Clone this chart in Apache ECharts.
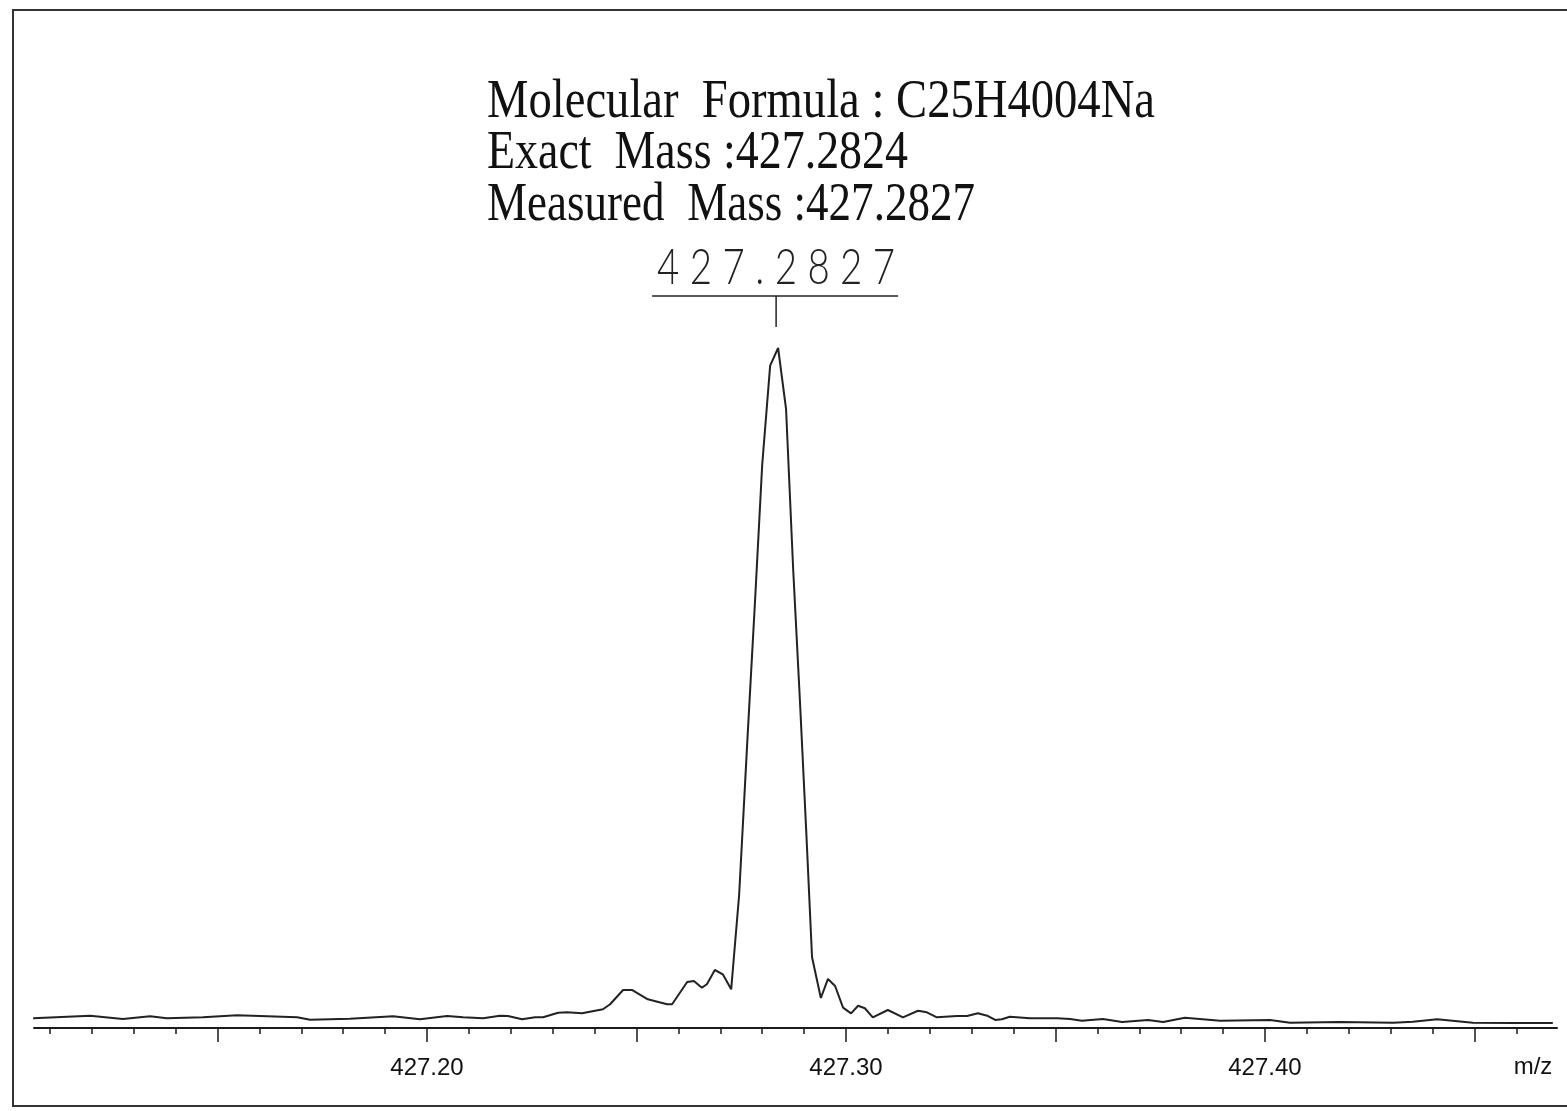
<!DOCTYPE html>
<html lang="en">
  <head>
    <meta charset="UTF-8" />
    <title>HRMS 427.2827</title>
    <style>
      html, body { margin: 0; padding: 0; background: #fff; }
      #app { width: 1567px; height: 1111px; }
    </style>
  </head>
  <body>
    <div id="app"></div>
    <script src="https://cdn.jsdelivr.net/npm/echarts@6/dist/echarts.min.js"></script>
    <script>
      // m/z values
      var mz = [
        427.1060, 427.1196, 427.1274, 427.1339, 427.1379, 427.1465, 427.1547, 427.1690,
        427.1721, 427.1816, 427.1919, 427.1983, 427.2048, 427.2086, 427.2134, 427.2174,
        427.2193, 427.2227, 427.2258, 427.2277, 427.2313, 427.2334, 427.2370, 427.2420,
        427.2437, 427.2468, 427.2489, 427.2527, 427.2573, 427.2585, 427.2621, 427.2637,
        427.2656, 427.2668, 427.2687, 427.2706, 427.2726, 427.2745, 427.2764, 427.2783,
        427.2800, 427.2819, 427.2838, 427.2857, 427.2874, 427.2890, 427.2905, 427.2919,
        427.2940, 427.2957, 427.2974, 427.2993, 427.3012, 427.3029, 427.3045, 427.3064,
        427.3100, 427.3136, 427.3172, 427.3193, 427.3217, 427.3265, 427.3289, 427.3315,
        427.3337, 427.3356, 427.3372, 427.3391, 427.3439, 427.3504, 427.3535, 427.3563,
        427.3613, 427.3659, 427.3721, 427.3757, 427.3809, 427.3893, 427.4012, 427.4060,
        427.4179, 427.4306, 427.4353, 427.4411, 427.4496, 427.4592, 427.4687
      ]
      // relative intensity (%)
      var intensity = [
        1.43, 1.81, 1.32, 1.72, 1.43, 1.57, 1.87, 1.57,
        1.22, 1.37, 1.72, 1.29, 1.76, 1.57, 1.43, 1.81,
        1.76, 1.28, 1.57, 1.57, 2.25, 2.31, 2.16, 2.75,
        3.49, 5.59, 5.59, 4.22, 3.49, 3.49, 6.76, 6.91,
        5.93, 6.43, 8.53, 7.90, 5.69, 19.6, 41.6, 62.9,
        82.8, 97.4, 100, 91.0, 67.4, 48.2, 29.1, 10.4,
        4.41, 7.21, 6.18, 2.99, 2.16, 3.28, 2.90, 1.57,
        2.65, 1.57, 2.54, 2.31, 1.57, 1.76, 1.76, 2.16,
        1.81, 1.18, 1.28, 1.66, 1.43, 1.43, 1.32, 1.07,
        1.32, 0.88, 1.18, 0.88, 1.51, 1.07, 1.18, 0.78,
        0.88, 0.78, 0.93, 1.28, 0.78, 0.74, 0.74
      ]
      var minorTicks = [
        427.11, 427.12, 427.13, 427.14, 427.16, 427.17, 427.18, 427.19,
        427.21, 427.22, 427.23, 427.24, 427.26, 427.27, 427.28, 427.29,
        427.31, 427.32, 427.33, 427.34, 427.36, 427.37, 427.38, 427.39,
        427.41, 427.42, 427.43, 427.44, 427.46
      ]
      var majorTicks = [427.15, 427.20, 427.25, 427.30, 427.35, 427.40, 427.45]
      var tickLabels = [427.20, 427.30, 427.40]
      var headerLines = [
        'Molecular  Formula : C25H4004Na',
        'Exact  Mass :427.2824',
        'Measured  Mass :427.2827'
      ]
      var peakLabel = '427.2827'

      var xMin = 427.1062
      var xMax = 427.4697

      var measureCtx = document.createElement('canvas').getContext('2d')
      function fitScale(text, font, width) {
        measureCtx.font = font
        return width / measureCtx.measureText(text).width
      }

      var chart = echarts.init(document.getElementById('app'), null, { renderer: 'canvas' })

      var baseAxis = {
        type: 'value',
        position: 'bottom',
        min: xMin,
        max: xMax,
        splitLine: { show: false }
      }

      chart.setOption({
        animation: false,
        backgroundColor: '#ffffff',
        grid: { left: 34, right: 10, top: 348, bottom: 83 },
        xAxis: [
          Object.assign({}, baseAxis, {
            axisLine: { show: true, lineStyle: { color: '#1a1a1a', width: 2 } },
            axisTick: { show: true, length: 6, customValues: minorTicks,
              lineStyle: { color: '#1a1a1a', width: 1.5 } },
            axisLabel: { show: false }
          }),
          Object.assign({}, baseAxis, {
            axisLine: { show: false },
            axisTick: { show: true, length: 14, customValues: majorTicks,
              lineStyle: { color: '#1a1a1a', width: 1.5 } },
            axisLabel: {
              show: true,
              customValues: tickLabels,
              margin: 28,
              color: '#111',
              fontFamily: 'Liberation Sans',
              fontSize: 24,
              formatter: function (v) { return v.toFixed(2) }
            }
          })
        ],
        yAxis: { type: 'value', min: 0, max: 100, show: false },
        series: [
          {
            type: 'line',
            xAxisIndex: 0,
            showSymbol: false,
            symbol: 'none',
            lineStyle: { color: '#222', width: 2 },
            data: mz.map(function (m, i) { return [m, intensity[i]] })
          }
        ]
      })

      // header text + peak annotation
      var headerFont = '54px "Liberation Serif"'
      var headerWidths = [668, 421, 488]
      var headerY = [103, 154, 206]
      var graphics = [
        {
          type: 'polyline',
          shape: { points: [[1600, 10], [13, 10], [13, 1106], [1600, 1106]] },
          style: { stroke: '#333', lineWidth: 2, fill: null }
        }
      ]
      headerLines.forEach(function (t, i) {
        graphics.push({
          type: 'text',
          x: 487,
          y: headerY[i],
          scaleX: fitScale(t, headerFont, headerWidths[i]),
          style: { text: t, font: headerFont, fill: '#111', verticalAlign: 'middle' }
        })
      })

      var peakIdx = intensity.indexOf(Math.max.apply(null, intensity))
      var p = chart.convertToPixel({ gridIndex: 0 }, [mz[peakIdx], intensity[peakIdx]])
      var spaced = peakLabel.split('').join(' ')
      var labelFont = '300 50px Lato'
      var labelScale = fitScale(spaced, labelFont, 238)
      graphics.push(
        {
          type: 'line',
          shape: { x1: p[0] - 2, y1: p[1] - 21, x2: p[0] - 2, y2: p[1] - 52 },
          style: { stroke: '#222', lineWidth: 1.5 }
        },
        {
          type: 'line',
          shape: { x1: p[0] - 126, y1: p[1] - 52, x2: p[0] + 120, y2: p[1] - 52 },
          style: { stroke: '#222', lineWidth: 1.5 }
        },
        {
          type: 'text',
          x: p[0] - 2 - 119,
          y: p[1] - 80,
          scaleX: labelScale,
          style: { text: spaced, font: labelFont, fill: '#222', verticalAlign: 'middle' }
        },
        {
          type: 'text',
          x: 1533,
          y: 1067,
          style: { text: 'm/z', font: '24px "Liberation Sans"', fill: '#111',
            align: 'center', verticalAlign: 'middle' }
        }
      )
      chart.setOption({ graphic: graphics })
    </script>
  </body>
</html>
